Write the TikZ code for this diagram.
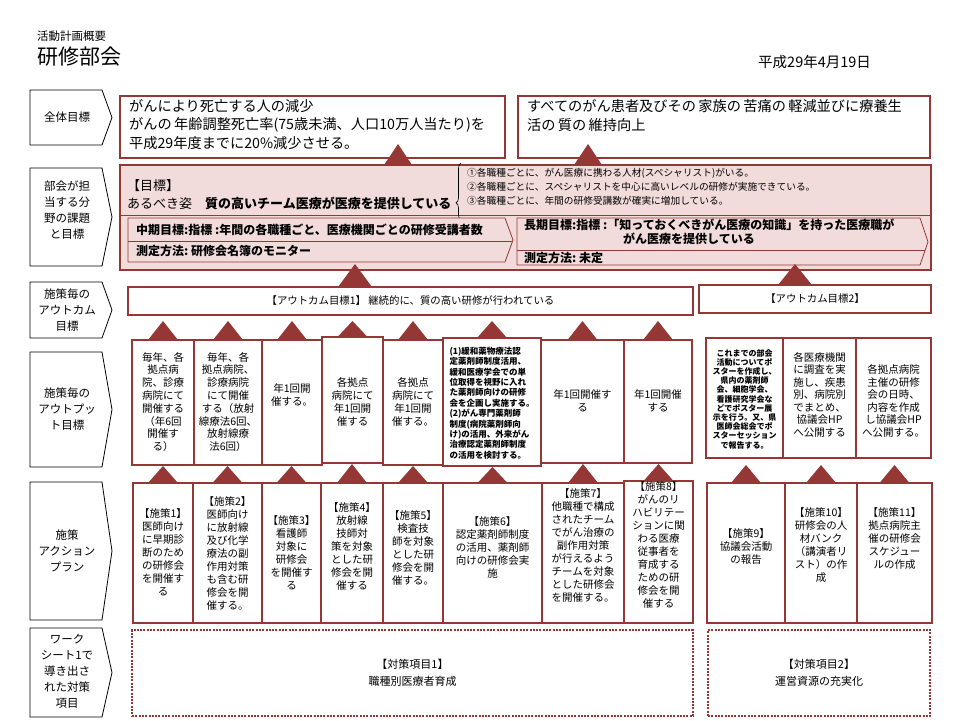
\documentclass[tikz,border=0pt]{standalone}
\usepackage{fontspec}
\setmainfont{Noto Sans CJK JP}
\usetikzlibrary{calc,decorations.pathreplacing}
\definecolor{dred}{RGB}{149,55,53}
\definecolor{lpink}{RGB}{242,220,219}
\newcommand\fsz[2]{\fontsize{#1}{#2}\selectfont}
\newcommand\rowlab[5]{%
  \draw[line width=0.8pt,fill=white] (30,#2) -- (102,#2) -- (112,{(#2+#3)/2}) -- (102,#3) -- (30,#3) -- cycle;
  \node[lbltxt] (#1) at (67,#4) {#5};}
\newcommand\upconn[4]{%
  \fill[dred] ($(#1.north)+(-#4,0)$) -- ($(#2.south -| #1.north)+(0,#3)$) -- ($(#1.north)+(#4,0)$) -- cycle;}
\begin{document}
\begin{tikzpicture}[x=1pt,y=-1pt,
  rbox/.style={draw=dred,line width=2.6pt,fill=white,anchor=north west,inner sep=0pt,outer sep=0pt},
  dbox/.style={draw=dred,line width=2.6pt,dash pattern=on 2pt off 1.3pt,anchor=north west,inner sep=0pt,outer sep=0pt},
  btxt/.style={align=center,inner sep=0pt,font=\fsz{10.5}{12.8}},
  atxt/.style={align=center,inner sep=0pt,font=\fsz{10.5}{13}},
  lbltxt/.style={align=center,inner sep=0pt,font=\fsz{11.5}{16}},
  ltxt/.style={align=left,anchor=west,inner sep=0pt},
  chev/.style={draw=dred,line width=0.8pt,fill=lpink},
  chtxt/.style={ltxt,font=\fsz{12}{14}\bfseries},
]
\useasboundingbox[fill=white] (0,0) rectangle (960,720);

% header
\node[ltxt,font=\fsz{11.5}{14}] (hdr1) at (37,36) {活動計画概要};
\node[ltxt,font=\fsz{21}{24}] (hdr2) at (37,57) {研修部会};
\node[ltxt,font=\fsz{14.5}{16}] (date) at (758,62) {平成29年4月19日};

% row labels
\rowlab{L1}{90}{145}{117.5}{全体目標}
\rowlab{L2}{168}{266}{210}{部会が担\\当する分\\野の課題\\と目標}
\rowlab{L3}{282}{338}{310}{施策毎の\\アウトカム\\目標}
\rowlab{L4}{352}{467}{409.5}{施策毎の\\アウトプッ\\ト目標}
\rowlab{L5}{482}{620}{551}{施策\\アクション\\プラン}
\rowlab{L6}{628}{717}{671}{ワーク\\シート1で\\導き出さ\\れた対策\\項目}

% overall goals
\node[rbox,minimum width=385,minimum height=62] (g1) at (120,96) {};
\node[rbox,minimum width=412,minimum height=62] (g2) at (518,96) {};
\node[ltxt,font=\fsz{14.2}{18.5}] (g1t) at (129,124.5) {がんにより死亡する人の減少\\がんの\,年齢調整死亡率(75歳未満、人口10万人当たり)を\\平成29年度までに20\%減少させる。};
\node[ltxt,font=\fsz{14.2}{18.5}] (g2t) at (527,115.5) {すべてのがん患者及びその\,家族の\,苦痛の\,軽減並びに療養生\\活の\,質の\,維持向上};

% task box
\node[rbox,fill=lpink,minimum width=811,minimum height=105] (task) at (120,165) {};
\draw[dred,line width=0.8pt] (task.west |- 0,215) -- (task.east |- 0,215);
\node[ltxt,font=\fsz{13}{16}] (mok) at (127,186) {【目標】};
\node[ltxt,font=\fsz{13}{16}] (aru) at (127,203) {あるべき姿\hspace{1em}\textbf{質の高いチーム医療が医療を提供している}};
\draw[line width=0.6pt,decorate,decoration={brace,amplitude=5pt,aspect=0.3}] (461,220) -- (461,163);
\node[ltxt,font=\fsz{9.7}{14}] (bul) at (467,187) {①各職種ごとに、がん医療に携わる人材(スペシャリスト)がいる。\\②各職種ごとに、スペシャリストを中心に高いレベルの研修が実施できている。\\③各職種ごとに、年間の研修受講数が確実に増加している。};

\draw[chev] (128,218) -- (505,218) -- (513,240) -- (505,262) -- (128,262) -- cycle;
\draw[dred,line width=0.8pt] (128,241) -- (512,241);
\node[chtxt] (mid1) at (136,230) {中期目標:指標\ :年間の各職種ごと、医療機関ごとの研修受講者数};
\node[chtxt] (mid2) at (136,251) {測定方法:\ 研修会名簿のモニター};

\draw[chev] (517,218) -- (920,218) -- (928,242) -- (920,265) -- (517,265) -- cycle;
\draw[dred,line width=0.8pt] (517,250) -- (925,250);
\node[chtxt] (lng1) at (524,225) {長期目標:指標\ :「知っておくべきがん医療の知識」を持った医療職が};
\node[chtxt] (lng2) at (623,239) {がん医療を提供している};
\node[chtxt] (lng3) at (524,257.5) {測定方法:\ 未定};

% outcome boxes
\node[rbox,minimum width=565,minimum height=28] (oc1) at (128,287) {};
\node[rbox,minimum width=232,minimum height=28] (oc2) at (699,285) {};
\node[font=\fsz{10.4}{12},inner sep=0pt] (oc1t) at (oc1.center) {【アウトカム目標1】\ 継続的に、質の高い研修が行われている};
\node[font=\fsz{10.4}{12},inner sep=0pt] (oc2t) at (oc2.center) {【アウトカム目標2】};

% output boxes
\node[rbox,minimum width=62,minimum height=125] (o1) at (132,340) {};
\node[rbox,minimum width=68,minimum height=125] (o2) at (194,340) {};
\node[rbox,minimum width=60,minimum height=125] (o3) at (262,340) {};
\node[rbox,minimum width=61,minimum height=126] (o4) at (322,337) {};
\node[rbox,minimum width=60,minimum height=125] (o5) at (383,340) {};
\node[rbox,minimum width=98,minimum height=128] (o6) at (443,338) {};
\node[rbox,minimum width=83,minimum height=123] (o7) at (541,340) {};
\node[rbox,minimum width=68,minimum height=123] (o8) at (624,340) {};
\node[rbox,minimum width=77,minimum height=120] (o9) at (706,338) {};
\node[rbox,minimum width=73,minimum height=120] (o10) at (783,338) {};
\node[rbox,minimum width=75,minimum height=120] (o11) at (856,338) {};

\node[btxt] (o1t) at (o1.center |- 0,402) {毎年、各\\拠点病\\院、診療\\病院にて\\開催する\\（年6回\\開催す\\る）};
\node[btxt] (o2t) at (o2.center |- 0,402) {毎年、各\\拠点病院、\\診療病院\\にて開催\\する（放射\\線療法6回、\\放射線療\\法6回）};
\node[btxt] (o3t) at (o3.center |- 0,395) {年1回開\\催する。};
\node[btxt] (o4t) at (o4.center |- 0,402) {各拠点\\病院にて\\年1回開\\催する};
\node[btxt] (o5t) at (o5.center |- 0,402) {各拠点\\病院にて\\年1回開\\催する。};
\node[align=left,inner sep=0pt,font=\fsz{8.5}{10.4}\bfseries] (o6t) at (o6.center |- 0,403) {(1)緩和薬物療法認\\定薬剤師制度活用、\\緩和医療学会での単\\位取得を視野に入れ\\た薬剤師向けの研修\\会を企画し実施する。\\(2)がん専門薬剤師\\制度(病院薬剤師向\\け)の活用、外来がん\\治療認定薬剤師制度\\の活用を検討する。};
\node[btxt] (o7t) at (o7.center |- 0,401) {年1回開催す\\る};
\node[btxt] (o8t) at (o8.center |- 0,401) {年1回開催\\する};
\node[align=center,inner sep=0pt,font=\fsz{8}{9.2}\bfseries] (o9t) at (o9.center |- 0,399) {これまでの部会\\活動についてポ\\スターを作成し、\\県内の薬剤師\\会、細胞学会、\\看護研究学会な\\どでポスター展\\示を行う。又、県\\医師会総会でポ\\スターセッション\\で報告する。};
\node[btxt,font=\fsz{10.5}{12.5}] (o10t) at (o10.center |- 0,394.5) {各医療機関\\に調査を実\\施し、疾患\\別、病院別\\でまとめ、\\協議会HP\\へ公開する};
\node[btxt,font=\fsz{10.5}{12.5}] (o11t) at (o11.center |- 0,401) {各拠点病院\\主催の研修\\会の日時、\\内容を作成\\し協議会HP\\へ公開する。};

% action boxes
\node[rbox,minimum width=60,minimum height=140] (a1) at (133,483) {};
\node[rbox,minimum width=69,minimum height=140] (a2) at (193,483) {};
\node[rbox,minimum width=59,minimum height=140] (a3) at (262,483) {};
\node[rbox,minimum width=62,minimum height=140] (a4) at (321,483) {};
\node[rbox,minimum width=60,minimum height=140] (a5) at (383,483) {};
\node[rbox,minimum width=99,minimum height=140] (a6) at (443,483) {};
\node[rbox,minimum width=82,minimum height=140] (a7) at (542,483) {};
\node[rbox,minimum width=69,minimum height=142] (a8) at (624,481) {};
\node[rbox,minimum width=78,minimum height=140] (a9) at (707,483) {};
\node[rbox,minimum width=72,minimum height=140] (a10) at (785,483) {};
\node[rbox,minimum width=75,minimum height=140] (a11) at (857,483) {};

\node[atxt] (a1t) at (a1.center |- 0,552) {【施策1】\\医師向け\\に早期診\\断のため\\の研修会\\を開催す\\る};
\node[atxt] (a2t) at (a2.center |- 0,553) {【施策2】\\医師向け\\に放射線\\及び化学\\療法の副\\作用対策\\も含む研\\修会を開\\催する。};
\node[atxt] (a3t) at (a3.center |- 0,553) {【施策3】\\看護師\\対象に\\研修会\\を開催す\\る};
\node[atxt] (a4t) at (a4.center |- 0,546) {【施策4】\\放射線\\技師対\\策を対象\\とした研\\修会を開\\催する};
\node[atxt] (a5t) at (a5.center |- 0,548) {【施策5】\\検査技\\師を対象\\とした研\\修会を開\\催する。};
\node[atxt] (a6t) at (a6.center |- 0,547) {【施策6】\\認定薬剤師制度\\の活用、薬剤師\\向けの研修会実\\施};
\node[atxt] (a7t) at (a7.center |- 0,545) {【施策7】\\他職種で構成\\されたチーム\\でがん治療の\\副作用対策\\が行えるよう\\チームを対象\\とした研修会\\を開催する。};
\node[atxt] (a8t) at (a8.center |- 0,545) {【施策8】\\がんのリ\\ハビリテー\\ションに関\\わる医療\\従事者を\\育成する\\ための研\\修会を開\\催する};
\node[atxt] (a9t) at (a9.center |- 0,547) {【施策9】\\協議会活動\\の報告};
\node[atxt] (a10t) at (a10.center |- 0,545) {【施策10】\\研修会の人\\材バンク\\（講演者リ\\スト）の作\\成};
\node[atxt] (a11t) at (a11.center |- 0,539) {【施策11】\\拠点病院主\\催の研修会\\スケジュー\\ルの作成};

% countermeasure items
\node[dbox,minimum width=561,minimum height=86] (m1) at (132,630) {};
\node[dbox,minimum width=222,minimum height=86] (m2) at (708,630) {};
\node[align=center,inner sep=0pt,font=\fsz{11}{17}] (m1t) at (m1.center) {【対策項目1】\\職種別医療者育成};
\node[align=center,inner sep=0pt,font=\fsz{11}{17}] (m2t) at (m2.center) {【対策項目2】\\運営資源の充実化};

% triangle connectors
\fill[dred] ($(task.north west)+(264,0)$) -- ($(g1.south west)+(278,-14)$) -- ($(task.north west)+(292,0)$) -- cycle;
\fill[dred] ($(task.north west)+(454,0)$) -- ($(g2.south west)+(70,-14)$) -- ($(task.north west)+(482,0)$) -- cycle;
\fill[dred] ($(oc1.north west)+(210,0)$) -- ($(task.south west)+(235,-6)$) -- ($(oc1.north west)+(244,0)$) -- cycle;
\fill[dred] ($(oc2.north west)+(79,0)$) -- ($(task.south west)+(675,-6)$) -- ($(oc2.north west)+(113,0)$) -- cycle;
\foreach \n in {o1,o2,o3,o4,o5,o6,o7,o8}{\upconn{\n}{oc1}{6}{15}}
\foreach \n in {1,2,3,4,5,6,7,8}{\upconn{a\n}{o\n}{1}{15}}
\foreach \n in {9,10,11}{\upconn{a\n}{o\n}{7}{15}}
\end{tikzpicture}
\end{document}
